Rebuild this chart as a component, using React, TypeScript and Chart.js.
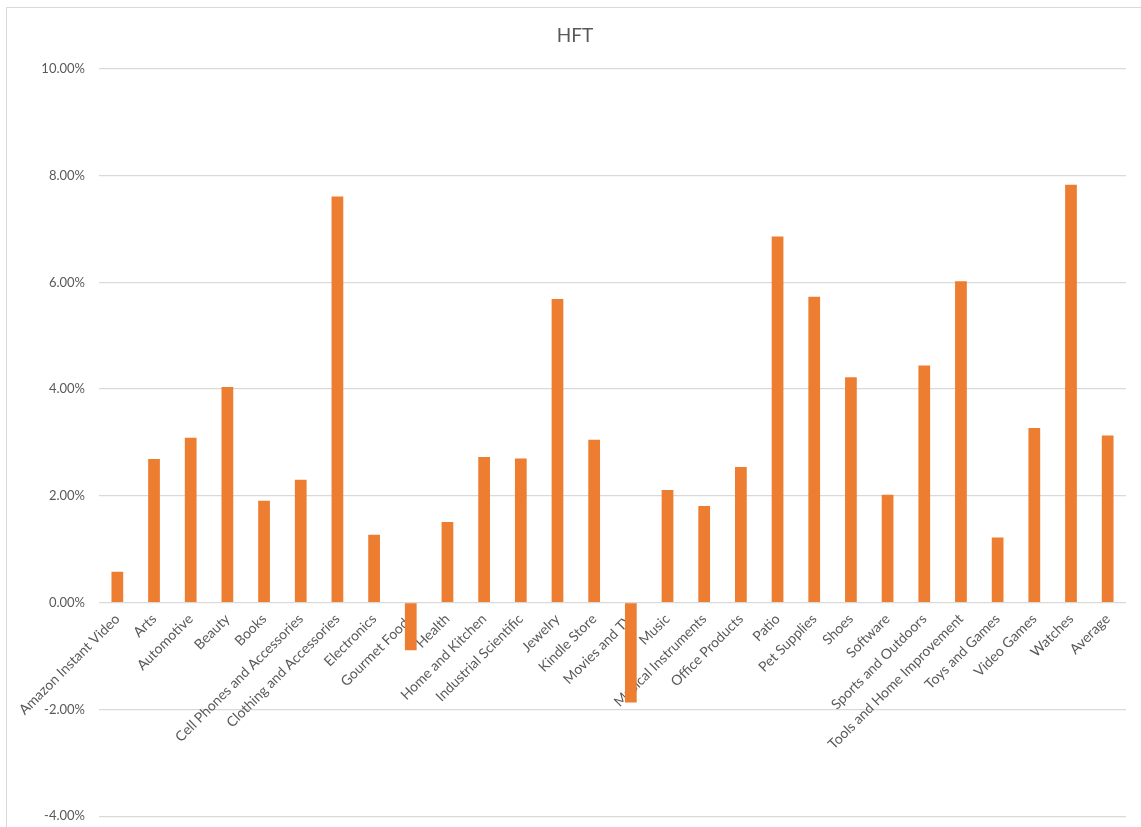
import React, { useEffect, useRef } from "react";
import { Chart, registerables } from "chart.js";

Chart.register(...registerables);

const categories: string[] = [
  "Amazon Instant Video",
  "Arts",
  "Automotive",
  "Beauty",
  "Books",
  "Cell Phones and Accessories",
  "Clothing and Accessories",
  "Electronics",
  "Gourmet Foods",
  "Health",
  "Home and Kitchen",
  "Industrial Scientific",
  "Jewelry",
  "Kindle Store",
  "Movies and TV",
  "Music",
  "Musical Instruments",
  "Office Products",
  "Patio",
  "Pet Supplies",
  "Shoes",
  "Software",
  "Sports and Outdoors",
  "Tools and Home Improvement",
  "Toys and Games",
  "Video Games",
  "Watches",
  "Average",
];

// HFT values in percent
const hftValues: number[] = [
  0.58, 2.69, 3.09, 4.04, 1.91, 2.3, 7.61, 1.27, -0.89, 1.51, 2.73, 2.7, 5.69,
  3.05, -1.87, 2.11, 1.81, 2.54, 6.86, 5.73, 4.22, 2.02, 4.44, 6.02, 1.22,
  3.27, 7.83, 3.13,
];

const yMin = -4;
const yMax = 10;
const yStep = 2;

const chartTitle = "HFT";

export default function App() {
  const canvasRef = useRef<HTMLCanvasElement | null>(null);

  useEffect(() => {
    if (!canvasRef.current) return;
    const font = "Lato, 'Open Sans', sans-serif";
    const chart = new Chart(canvasRef.current, {
      type: "bar",
      data: {
        labels: categories,
        datasets: [
          {
            label: chartTitle,
            data: hftValues,
            backgroundColor: "#ED7D31",
            borderWidth: 0,
            barPercentage: 0.64,
            categoryPercentage: 0.5,
          },
        ],
      },
      options: {
        animation: false,
        responsive: false,
        maintainAspectRatio: false,
        layout: { padding: { left: 17, right: 15, top: 0, bottom: 0 } },
        plugins: {
          legend: { display: false },
          tooltip: { enabled: false },
          title: {
            display: true,
            text: chartTitle,
            color: "#595959",
            font: { family: font, size: 19, weight: "normal" },
            padding: { top: 16, bottom: 22 },
          },
        },
        scales: {
          x: {
            position: { y: 0 } as any,
            grid: { display: false, drawTicks: false },
            border: { display: false },
            ticks: {
              autoSkip: false,
              maxRotation: 45,
              minRotation: 45,
              padding: 8,
              color: "#595959",
              font: { family: font, size: 14 },
            },
          },
          y: {
            min: yMin,
            max: yMax,
            grid: { color: "#d9d9d9", lineWidth: 1.3, drawTicks: false },
            border: { display: false },
            ticks: {
              stepSize: yStep,
              padding: 14,
              color: "#595959",
              font: { family: font, size: 13 },
              callback: (v: any) => Number(v).toFixed(2) + "%",
            },
            afterFit: (scale: any) => {
              scale.width = 75;
            },
          },
        },
      },
    });
    return () => chart.destroy();
  }, []);

  return (
    <div
      style={{
        position: "absolute",
        left: 0,
        top: 0,
        width: 1141,
        height: 827,
        overflow: "hidden",
        background: "#fff",
      }}
    >
      <div
        style={{
          position: "absolute",
          left: 6,
          top: 7,
          width: 1160,
          height: 840,
          border: "1px solid #d9d9d9",
          boxSizing: "border-box",
        }}
      >
        <canvas
          ref={canvasRef}
          width={1134}
          height={830}
          style={{ position: "absolute", left: 0, top: 0, width: 1134, height: 830 }}
        />
      </div>
    </div>
  );
}
